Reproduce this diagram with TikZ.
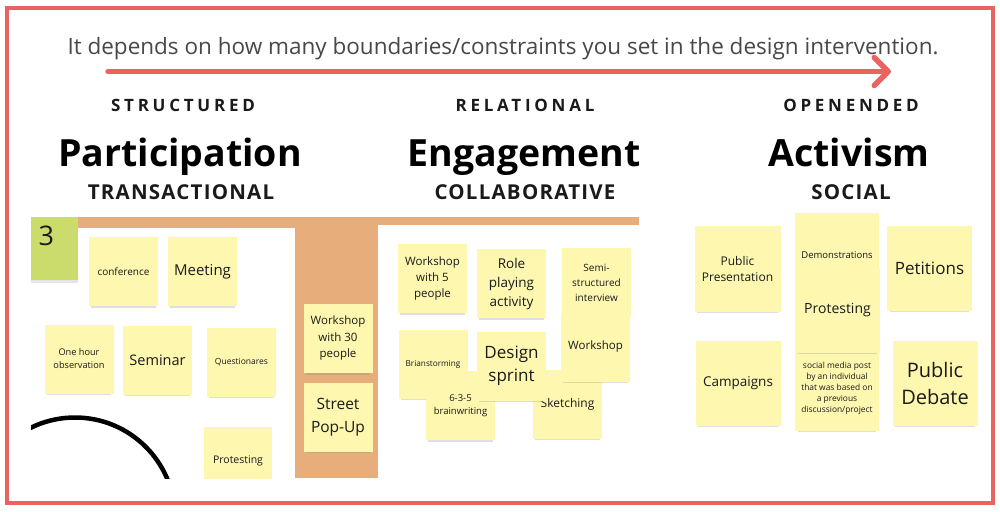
\documentclass[tikz,border=0pt]{standalone}
\usepackage{fontspec}
\setmainfont{Open Sans}
\newfontfamily\wideface[LetterSpace=22]{Open Sans}
\newfontfamily\capface[LetterSpace=6]{Open Sans}
\usepackage{xcolor}
\usetikzlibrary{arrows.meta,shadows}
\definecolor{frame}{HTML}{EB6361}
\definecolor{note}{HTML}{FEF7B0}
\definecolor{board}{HTML}{E7AE7C}
\definecolor{lime}{HTML}{CBDC6D}
\definecolor{ink}{HTML}{1A1A1A}

\begin{document}
\begin{tikzpicture}[x=1pt,y=-1pt,
  sticky/.style={fill=note,text=ink,align=center,inner sep=0pt,
    drop shadow={shadow xshift=0pt,shadow yshift=-4pt,shadow scale=0.94,opacity=0.25}},
  kicker/.style={anchor=base,text=ink,font=\wideface\bfseries\fontsize{17}{20}\selectfont},
  mode/.style={anchor=base,text=black,font=\bfseries\fontsize{37.5}{42}\selectfont},
  flavour/.style={anchor=base,text=ink,font=\capface\bfseries\fontsize{20.5}{24}\selectfont}]
  \useasboundingbox (0,0) rectangle (1000,511);
  \fill[white] (0,0) rectangle (1000,511);

  % heading and arrow
  \node[anchor=base,text=ink!80,font=\fontsize{22.5}{26}\selectfont] (intro) at (503,55)
    {It depends on how many boundaries/constraints you set in the design intervention.};
  \coordinate (tail) at (108,71.5);
  \coordinate (tip) at (891,71.5);
  \draw[frame,line width=5.5,line cap=round,-{Straight Barb[length=14pt,width=28pt,round]}] (tail) -- (tip);

  \node[kicker] (structured) at (183,111) {STRUCTURED};
  \node[kicker] (relational) at (525,111) {RELATIONAL};
  \node[kicker] (openended) at (851,111) {OPENENDED};
  \node[mode] (participation) at (180,166) {Participation};
  \node[mode] (engagement) at (524,166) {Engagement};
  \node[mode] (activism) at (849,166) {Activism};
  \node[flavour] (transactional) at (181,199.5) {TRANSACTIONAL};
  \node[flavour] (collaborative) at (525,199.5) {COLLABORATIVE};
  \node[flavour] (social) at (851,199.5) {SOCIAL};

  % board with its notes
  \begin{scope}
    \clip (31,217) rectangle (680,478);
    \fill[board] (31,217) rectangle (639,225);
    \fill[board] (31,217) rectangle (295,228);
    \fill[board] (295,217) rectangle (378,478);
    \begin{scope}
      \clip (31,228) rectangle (295,478);
      \draw[line width=4.5] (75,517.5) circle[radius=100pt];
    \end{scope}
    \fill[lime,drop shadow={shadow xshift=0pt,shadow yshift=-3pt,opacity=0.2}] (31,217) rectangle (78,280);
    \node[anchor=base west,text=ink,font=\fontsize{27}{30}\selectfont] (three) at (35,245) {3};
    \foreach \nm/\cx/\cy/\w/\fs/\ls/\txt in {
      conference/123.5/271.5/69/10/12/{conference},
      meeting/202.5/271.5/69/15/17/{Meeting},
      observation/79/359/69/9.2/13/{One hour\\observation},
      seminar/157.5/360/69/14.5/17/{Seminar},
      questionares/241.5/362/69/8.5/11/{Questionares},
      protestingA/238/461/68/10.5/13/{Protesting},
      workshopB/338/338.5/69/11.5/16.5/{Workshop\\with 30\\people},
      popup/338/417/69/15.5/23/{Street\\Pop-Up},
      workshopC/432.5/278.5/69/11.5/16/{Workshop\\with 5\\people},
      roleplay/511.5/283.5/69/13.5/19/{Role\\playing\\activity},
      interview/596.5/282.5/69/10/15/{Semi-\\structured\\interview},
      brainstorm/433/364/69/8.2/10/{Brianstorming},
      brainwrite/460.5/405.5/69/9.5/13/{6-3-5\\brainwriting},
      sketching/567.5/404/69/12/15/{Sketching},
      workshopD/595.5/347/69/11.5/15/{Workshop},
      sprint/511.5/366/69/17/23/{Design\\sprint}}
      \node[sticky,minimum width=\w,minimum height=\w,font=\fontsize{\fs}{\ls}\selectfont] (\nm) at (\cx,\cy) {\txt};
  \end{scope}

  % open-ended notes
  \foreach \nm/\cx/\cy/\w/\fs/\ls/\txt in {
    presentation/737.5/268.5/86/12/16/{Public\\Presentation},
    petitions/929.5/268/85/17/20/{Petitions},
    campaigns/738/383.5/85/13.5/16/{Campaigns},
    debate/935/383.5/85/20/27/{Public\\Debate},
    demos/837/255/84/9.5/12/{Demonstrations},
    post/837/388.5/84/8.4/11/{social media post\\by an individual\\that was based on\\a previous\\discussion/project},
    protestingB/837.5/310/85/14/16/{Protesting}}
    \node[sticky,minimum width=\w,minimum height=\w,font=\fontsize{\fs}{\ls}\selectfont] (\nm) at (\cx,\cy) {\txt};

  \draw[frame,line width=4.5] (7,8) rectangle (993,503);
\end{tikzpicture}
\end{document}
